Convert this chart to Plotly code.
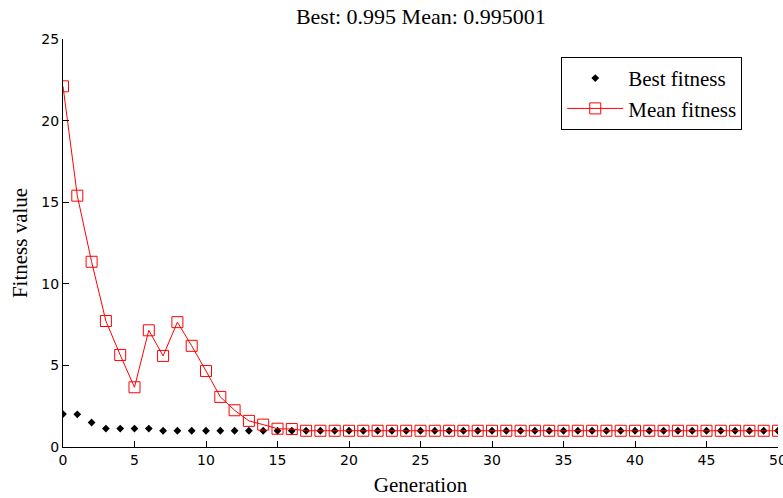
import plotly.graph_objects as go

generations = list(range(0, 51))
best_fitness = [2.02, 2.0, 1.5, 1.13, 1.13, 1.13, 1.13] + [0.995] * 44
mean_fitness = [22.1, 15.4, 11.35, 7.72, 5.64, 3.66, 7.15, 5.58, 7.65, 6.2,
                4.66, 3.07, 2.25, 1.6, 1.37, 1.12, 1.1] + [0.995001] * 34
title_text = "Best: 0.995 Mean: 0.995001"
x_ticks = [0, 5, 10, 15, 20, 25, 30, 35, 40, 45, 50]
y_ticks = [0, 5, 10, 15, 20, 25]

serif = "Liberation Serif"
sans = "DejaVu Sans"

fig = go.Figure()
fig.add_trace(go.Scatter(
    x=generations, y=best_fitness, mode="markers", name="Best fitness",
    marker=dict(symbol="diamond", size=6, color="black"),
))
fig.add_trace(go.Scatter(
    x=generations, y=mean_fitness, mode="lines+markers", name="Mean fitness",
    line=dict(color="red", width=1),
    marker=dict(symbol="square-open", size=11, color="red", line=dict(width=1)),
))

fig.update_layout(
    width=783, height=498,
    margin=dict(l=63, r=5, t=39, b=51, autoexpand=False),
    paper_bgcolor="white", plot_bgcolor="white",
    title=dict(text=title_text, x=0.5375, xanchor="center", y=0.982, yanchor="top",
               font=dict(family=serif, size=22, color="black")),
    showlegend=True,
    legend=dict(x=0.95, xanchor="right", y=0.956, yanchor="top",
                bordercolor="black", borderwidth=1, bgcolor="white",
                font=dict(family=serif, size=21, color="black"),
                itemwidth=56, tracegroupgap=0),
    xaxis=dict(range=[0, 50], tickvals=x_ticks, ticks="inside", ticklen=6,
               tickcolor="black", showline=True, linecolor="black", linewidth=1,
               showgrid=False, zeroline=False, ticklabeloverflow="allow",
               automargin=False,
               tickfont=dict(family=sans, size=14, color="black"),
               title=dict(text="Generation", standoff=10,
                          font=dict(family=serif, size=21, color="black"))),
    yaxis=dict(range=[0, 25], tickvals=y_ticks, ticks="inside", ticklen=6,
               tickcolor="black", showline=True, linecolor="black", linewidth=1,
               showgrid=False, zeroline=False, automargin=False,
               tickfont=dict(family=sans, size=14, color="black"),
               title=dict(text="Fitness value", standoff=8,
                          font=dict(family=serif, size=21, color="black"))),
)

fig.write_html("out.html")
